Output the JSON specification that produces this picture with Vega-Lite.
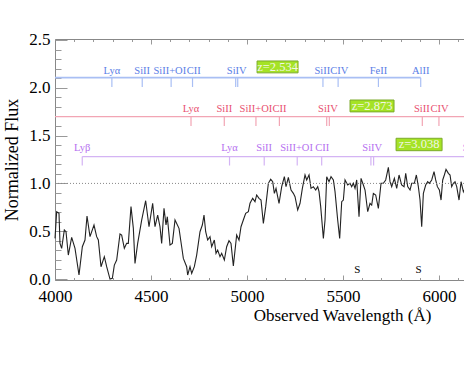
{
  "$schema": "https://vega.github.io/schema/vega-lite/v6.json",
  "width": 409,
  "height": 241,
  "autosize": {"type": "none"},
  "padding": {"left": 55, "top": 39, "right": 0, "bottom": 102},
  "background": "white",
  "config": {
    "view": {"stroke": null},
    "font": "Liberation Serif",
    "axis": {"grid": false, "labelFont": "Liberation Serif", "titleFont": "Liberation Serif", "domainColor": "#888", "tickColor": "#999", "labelColor": "#000", "titleColor": "#000", "titleFontWeight": "normal", "labelFlush": false, "labelOverlap": false}
  },
  "datasets": {
    "spectrum": [
      {"wl": 4000, "f": 0.425}, {"wl": 4008.7, "f": 0.704}, {"wl": 4020.8, "f": 0.687}, {"wl": 4026, "f": 0.373}, {"wl": 4034.7, "f": 0.321},
      {"wl": 4048.6, "f": 0.513}, {"wl": 4057.3, "f": 0.495}, {"wl": 4069.4, "f": 0.251}, {"wl": 4086.8, "f": 0.436}, {"wl": 4104.2, "f": 0.321},
      {"wl": 4125, "f": 0.042}, {"wl": 4142.4, "f": 0.338}, {"wl": 4156.2, "f": 0.408}, {"wl": 4166.7, "f": 0.659}, {"wl": 4182.3, "f": 0.443},
      {"wl": 4203.1, "f": 0.565}, {"wl": 4217, "f": 0.443}, {"wl": 4225.7, "f": 0.408}, {"wl": 4239.6, "f": 0.129}, {"wl": 4256.9, "f": 0.234},
      {"wl": 4269.1, "f": 0.129}, {"wl": 4286.4, "f": 0.0}, {"wl": 4298.6, "f": 0.007}, {"wl": 4309, "f": 0.146}, {"wl": 4321.2, "f": 0.199},
      {"wl": 4338.5, "f": 0.471}, {"wl": 4347.2, "f": 0.46}, {"wl": 4361.1, "f": 0.321}, {"wl": 4373.2, "f": 0.373}, {"wl": 4381.9, "f": 0.373},
      {"wl": 4395.8, "f": 0.757}, {"wl": 4408, "f": 0.53}, {"wl": 4416.6, "f": 0.164}, {"wl": 4430.5, "f": 0.373}, {"wl": 4451.4, "f": 0.617},
      {"wl": 4472.2, "f": 0.819}, {"wl": 4489.6, "f": 0.547}, {"wl": 4508.6, "f": 0.792}, {"wl": 4520.8, "f": 0.547}, {"wl": 4534.7, "f": 0.669},
      {"wl": 4546.8, "f": 0.547}, {"wl": 4555.5, "f": 0.373}, {"wl": 4567.7, "f": 0.739}, {"wl": 4578.1, "f": 0.565}, {"wl": 4585, "f": 0.652},
      {"wl": 4598.9, "f": 0.356}, {"wl": 4611.1, "f": 0.373}, {"wl": 4625, "f": 0.617}, {"wl": 4645.8, "f": 0.53}, {"wl": 4659.7, "f": 0.338},
      {"wl": 4668.4, "f": 0.216}, {"wl": 4685.7, "f": 0.129}, {"wl": 4690.9, "f": 0.042}, {"wl": 4703.1, "f": 0.129}, {"wl": 4711.8, "f": 0.059},
      {"wl": 4725.6, "f": 0.129}, {"wl": 4737.8, "f": 0.251}, {"wl": 4755.2, "f": 0.495}, {"wl": 4767.3, "f": 0.565}, {"wl": 4776, "f": 0.669},
      {"wl": 4784.7, "f": 0.495}, {"wl": 4795.1, "f": 0.408}, {"wl": 4807.2, "f": 0.443}, {"wl": 4815.9, "f": 0.338}, {"wl": 4829.8, "f": 0.408},
      {"wl": 4838.5, "f": 0.268}, {"wl": 4847.2, "f": 0.303}, {"wl": 4859.3, "f": 0.234}, {"wl": 4868, "f": 0.268}, {"wl": 4881.9, "f": 0.199},
      {"wl": 4894, "f": 0.338}, {"wl": 4906.2, "f": 0.401}, {"wl": 4916.6, "f": 0.373}, {"wl": 4928.8, "f": 0.136}, {"wl": 4946.1, "f": 0.46},
      {"wl": 4958.3, "f": 0.408}, {"wl": 4968.7, "f": 0.547}, {"wl": 4980.8, "f": 0.617}, {"wl": 4993, "f": 0.687}, {"wl": 5006.9, "f": 0.704},
      {"wl": 5015.6, "f": 0.792}, {"wl": 5029.4, "f": 0.844}, {"wl": 5041.6, "f": 0.809}, {"wl": 5050.3, "f": 0.879}, {"wl": 5062.4, "f": 0.844},
      {"wl": 5072.9, "f": 0.826}, {"wl": 5085.1, "f": 0.582}, {"wl": 5097.3, "f": 0.757}, {"wl": 5111.1, "f": 1.001}, {"wl": 5123.3, "f": 1.043},
      {"wl": 5133.7, "f": 1.018}, {"wl": 5142.4, "f": 0.896}, {"wl": 5151.1, "f": 0.948}, {"wl": 5166.7, "f": 0.792}, {"wl": 5180.6, "f": 0.966},
      {"wl": 5194.5, "f": 1.07}, {"wl": 5203.1, "f": 0.966}, {"wl": 5215.3, "f": 1.063}, {"wl": 5229.2, "f": 0.931}, {"wl": 5241.3, "f": 0.896},
      {"wl": 5250, "f": 0.861}, {"wl": 5263.9, "f": 0.722}, {"wl": 5276.1, "f": 0.792}, {"wl": 5288.2, "f": 0.948}, {"wl": 5302.1, "f": 1.088},
      {"wl": 5310.8, "f": 1.036}, {"wl": 5323, "f": 1.088}, {"wl": 5333.3, "f": 0.948}, {"wl": 5345.5, "f": 0.966}, {"wl": 5357.7, "f": 0.931},
      {"wl": 5368.1, "f": 0.966}, {"wl": 5375, "f": 0.914}, {"wl": 5383.7, "f": 0.757}, {"wl": 5397.6, "f": 0.425}, {"wl": 5406.3, "f": 0.617},
      {"wl": 5415, "f": 1.07}, {"wl": 5427.1, "f": 1.018}, {"wl": 5437.5, "f": 1.07}, {"wl": 5449.7, "f": 1.036}, {"wl": 5458.3, "f": 0.914},
      {"wl": 5472.2, "f": 0.617}, {"wl": 5482.6, "f": 0.425}, {"wl": 5493.1, "f": 0.809}, {"wl": 5501.7, "f": 0.826}, {"wl": 5510.4, "f": 1.036},
      {"wl": 5524.3, "f": 0.983}, {"wl": 5536.5, "f": 1.001}, {"wl": 5545.1, "f": 0.966}, {"wl": 5553.8, "f": 1.001}, {"wl": 5562.5, "f": 0.948},
      {"wl": 5571.2, "f": 1.036}, {"wl": 5583.3, "f": 0.652}, {"wl": 5593.8, "f": 1.053}, {"wl": 5605.9, "f": 0.983}, {"wl": 5614.6, "f": 0.931},
      {"wl": 5628.5, "f": 0.704}, {"wl": 5640.6, "f": 0.792}, {"wl": 5649.3, "f": 0.774}, {"wl": 5658, "f": 0.896}, {"wl": 5670.1, "f": 0.879},
      {"wl": 5684, "f": 0.739}, {"wl": 5697.9, "f": 1.001}, {"wl": 5710.1, "f": 1.001}, {"wl": 5722.2, "f": 1.036}, {"wl": 5736.1, "f": 1.168},
      {"wl": 5744.8, "f": 1.018}, {"wl": 5753.5, "f": 0.966}, {"wl": 5767.3, "f": 1.053}, {"wl": 5779.5, "f": 0.948}, {"wl": 5791.7, "f": 1.088},
      {"wl": 5805.5, "f": 0.983}, {"wl": 5817.7, "f": 0.966}, {"wl": 5826.4, "f": 1.105}, {"wl": 5836.8, "f": 0.966}, {"wl": 5849, "f": 0.931},
      {"wl": 5857.6, "f": 1.001}, {"wl": 5871.5, "f": 1.001}, {"wl": 5881.9, "f": 1.088}, {"wl": 5892.3, "f": 0.966}, {"wl": 5901, "f": 0.826},
      {"wl": 5909.7, "f": 0.547}, {"wl": 5918.4, "f": 0.896}, {"wl": 5930.5, "f": 0.983}, {"wl": 5940.9, "f": 1.018}, {"wl": 5949.6, "f": 1.001},
      {"wl": 5961.8, "f": 1.036}, {"wl": 5973.9, "f": 1.123}, {"wl": 5982.6, "f": 1.036}, {"wl": 5991.3, "f": 0.966}, {"wl": 6001.7, "f": 0.931},
      {"wl": 6010.4, "f": 0.826}, {"wl": 6019.1, "f": 1.036}, {"wl": 6027.7, "f": 1.088}, {"wl": 6036.4, "f": 1.147}, {"wl": 6048.6, "f": 1.105},
      {"wl": 6057.3, "f": 1.088}, {"wl": 6065.9, "f": 0.966}, {"wl": 6074.6, "f": 1.001}, {"wl": 6083.3, "f": 1.018}, {"wl": 6092, "f": 0.966},
      {"wl": 6104.1, "f": 0.826}, {"wl": 6114.5, "f": 1.018}, {"wl": 6126.7, "f": 0.914}, {"wl": 6130, "f": 0.931}
    ],
    "idticks": [
      {"z": "2.534", "wl": 4296.2}, {"z": "2.534", "wl": 4454.3}, {"z": "2.534", "wl": 4604.8}, {"z": "2.534", "wl": 4716.2},
      {"z": "2.534", "wl": 4941}, {"z": "2.534", "wl": 4951.6}, {"z": "2.534", "wl": 5395.4}, {"z": "2.534", "wl": 5474.4},
      {"z": "2.534", "wl": 5684.3}, {"z": "2.534", "wl": 5904.6},
      {"z": "2.873", "wl": 4708.3}, {"z": "2.873", "wl": 4881.6}, {"z": "2.873", "wl": 5046.5}, {"z": "2.873", "wl": 5168.6},
      {"z": "2.873", "wl": 5415}, {"z": "2.873", "wl": 5428.6}, {"z": "2.873", "wl": 5912.9}, {"z": "2.873", "wl": 5999.5},
      {"z": "3.038", "wl": 4141.9}, {"z": "3.038", "wl": 4908.9}, {"z": "3.038", "wl": 5089.6}, {"z": "3.038", "wl": 5261.5},
      {"z": "3.038", "wl": 5388.8}, {"z": "3.038", "wl": 5645.2}, {"z": "3.038", "wl": 5659.3}, {"z": "3.038", "wl": 6164.9}
    ],
    "idlabels": [
      {"z": "2.534", "ion": "Lyα", "wl": 4296.2}, {"z": "2.534", "ion": "SiII", "wl": 4454.3}, {"z": "2.534", "ion": "SiII+OI", "wl": 4598},
      {"z": "2.534", "ion": "CII", "wl": 4722}, {"z": "2.534", "ion": "SiIV", "wl": 4946.3}, {"z": "2.534", "ion": "SiII", "wl": 5392},
      {"z": "2.534", "ion": "CIV", "wl": 5480}, {"z": "2.534", "ion": "FeII", "wl": 5684.3}, {"z": "2.534", "ion": "AlII", "wl": 5904.6},
      {"z": "2.873", "ion": "Lyα", "wl": 4708.3}, {"z": "2.873", "ion": "SiII", "wl": 4881.6}, {"z": "2.873", "ion": "SiII+OI", "wl": 5046.5},
      {"z": "2.873", "ion": "CII", "wl": 5168.6}, {"z": "2.873", "ion": "SiIV", "wl": 5421.8}, {"z": "2.873", "ion": "SiII", "wl": 5910},
      {"z": "2.873", "ion": "CIV", "wl": 6003},
      {"z": "3.038", "ion": "Lyβ", "wl": 4141.9}, {"z": "3.038", "ion": "Lyα", "wl": 4908.9}, {"z": "3.038", "ion": "SiII", "wl": 5089.6},
      {"z": "3.038", "ion": "SiII+OI", "wl": 5258}, {"z": "3.038", "ion": "CII", "wl": 5392}, {"z": "3.038", "ion": "SiIV", "wl": 5652.2},
      {"z": "3.038", "ion": "SiII", "wl": 6164.9}
    ],
    "sky": [{"wl": 5575, "label": "S"}, {"wl": 5893, "label": "S"}],
    "one": [{}]
  },
  "layer": [
    {
      "data": {"name": "spectrum"},
      "mark": {"type": "line", "color": "#222", "strokeWidth": 1.1},
      "encoding": {
        "x": {"field": "wl", "type": "quantitative", "scale": {"domain": [4000, 6130], "nice": false, "zero": false},
          "axis": {"orient": "bottom", "values": [4000, 4500, 5000, 5500, 6000], "format": "d", "tickSize": -5, "labelPadding": 13, "labelFontSize": 17,
            "title": "Observed Wavelength (Å)", "titleFontSize": 17, "titleX": 287, "titleY": 40, "titleBaseline": "alphabetic"}},
        "y": {"field": "f", "type": "quantitative", "scale": {"domain": [-0.01, 2.51], "nice": false, "zero": false},
          "axis": {"orient": "left", "values": [0, 0.5, 1, 1.5, 2, 2.5], "format": ".1f", "tickSize": -12, "labelPadding": 17, "labelFontSize": 17,
            "title": "Normalized Flux", "titleFontSize": 18, "titleX": -38, "titleY": 120.5, "titleBaseline": "alphabetic", "titleAngle": 270}}
      }
    },
    {
      "data": {"name": "one"},
      "mark": {"type": "rule", "color": "#888", "strokeDash": [1, 2], "strokeWidth": 1},
      "encoding": {
        "x": {"datum": 4000, "type": "quantitative",
          "axis": {"orient": "bottom", "values": [4000, 4100, 4200, 4300, 4400, 4500, 4600, 4700, 4800, 4900, 5000, 5100, 5200, 5300, 5400, 5500, 5600, 5700, 5800, 5900, 6000, 6100], "labels": false, "domain": false, "tickSize": -2.5, "title": null}},
        "x2": {"datum": 6130},
        "y": {"datum": 1.0, "type": "quantitative",
          "axis": {"orient": "left", "values": [0, 0.1, 0.2, 0.3, 0.4, 0.5, 0.6, 0.7, 0.8, 0.9, 1, 1.1, 1.2, 1.3, 1.4, 1.5, 1.6, 1.7, 1.8, 1.9, 2, 2.1, 2.2, 2.3, 2.4, 2.5], "labels": false, "domain": false, "tickSize": -6, "title": null}}
      }
    },
    {
      "data": {"name": "sky"},
      "mark": {"type": "text", "color": "#000", "fontSize": 11, "baseline": "middle"},
      "encoding": {
        "x": {"field": "wl", "type": "quantitative",
          "axis": {"orient": "top", "values": [4000, 4100, 4200, 4300, 4400, 4500, 4600, 4700, 4800, 4900, 5000, 5100, 5200, 5300, 5400, 5500, 5600, 5700, 5800, 5900, 6000, 6100], "labels": false, "title": null,
            "tickSize": {"condition": {"test": "datum.value % 500 === 0", "value": -5}, "value": -2.5}}},
        "y": {"datum": 0.094, "type": "quantitative", "axis": null},
        "text": {"field": "label"}
      }
    },
    {
      "layer": [
        {"data": {"name": "one"}, "mark": {"type": "rule", "color": "#a9bff4", "strokeWidth": 1.6},
          "encoding": {"x": {"datum": 4000, "type": "quantitative", "axis": null}, "x2": {"datum": 5904.6}, "y": {"datum": 2.106, "type": "quantitative", "axis": null}}},
        {"data": {"name": "idticks"}, "transform": [{"filter": "datum.z === '2.534'"}], "mark": {"type": "rule", "color": "#a9bff4", "strokeWidth": 1.2},
          "encoding": {"x": {"field": "wl", "type": "quantitative", "axis": null}, "y": {"datum": 2.106, "type": "quantitative", "axis": null}, "y2": {"datum": 2.008}}},
        {"data": {"name": "idlabels"}, "transform": [{"filter": "datum.z === '2.534'"}], "mark": {"type": "text", "color": "#5a7ee6", "fontSize": 10.5, "baseline": "middle"},
          "encoding": {"x": {"field": "wl", "type": "quantitative", "axis": null}, "y": {"datum": 2.177, "type": "quantitative", "axis": null}, "text": {"field": "ion"}}},
        {"data": {"name": "one"}, "mark": {"type": "point", "shape": "M-1,-0.29L1,-0.29L1,0.29L-1,0.29Z", "size": 1681, "filled": true, "fill": "#a5e325", "stroke": "#7cab2c", "strokeWidth": 1, "opacity": 1},
          "encoding": {"x": {"datum": 5159, "type": "quantitative", "axis": null}, "y": {"datum": 2.218, "type": "quantitative", "axis": null}}},
        {"data": {"name": "one"}, "mark": {"type": "text", "color": "#f2f6e6", "fontSize": 12.5, "baseline": "middle"},
          "encoding": {"x": {"datum": 5159, "type": "quantitative", "axis": null}, "y": {"datum": 2.218, "type": "quantitative", "axis": null}, "text": {"value": "z=2.534"}}}
      ]
    },
    {
      "layer": [
        {"data": {"name": "one"}, "mark": {"type": "rule", "color": "#f2a5b4", "strokeWidth": 1.2},
          "encoding": {"x": {"datum": 4000, "type": "quantitative", "axis": null}, "x2": {"datum": 6130}, "y": {"datum": 1.698, "type": "quantitative", "axis": null}}},
        {"data": {"name": "idticks"}, "transform": [{"filter": "datum.z === '2.873'"}], "mark": {"type": "rule", "color": "#f2a5b4", "strokeWidth": 1.2},
          "encoding": {"x": {"field": "wl", "type": "quantitative", "axis": null}, "y": {"datum": 1.698, "type": "quantitative", "axis": null}, "y2": {"datum": 1.6}}},
        {"data": {"name": "idlabels"}, "transform": [{"filter": "datum.z === '2.873'"}], "mark": {"type": "text", "color": "#e8506f", "fontSize": 10.5, "baseline": "middle"},
          "encoding": {"x": {"field": "wl", "type": "quantitative", "axis": null}, "y": {"datum": 1.775, "type": "quantitative", "axis": null}, "text": {"field": "ion"}}},
        {"data": {"name": "one"}, "mark": {"type": "point", "shape": "M-1,-0.27L1,-0.27L1,0.27L-1,0.27Z", "size": 1936, "filled": true, "fill": "#a5e325", "stroke": "#7cab2c", "strokeWidth": 1, "opacity": 1},
          "encoding": {"x": {"datum": 5651, "type": "quantitative", "axis": null}, "y": {"datum": 1.81, "type": "quantitative", "axis": null}}},
        {"data": {"name": "one"}, "mark": {"type": "text", "color": "#f2f6e6", "fontSize": 12.5, "baseline": "middle"},
          "encoding": {"x": {"datum": 5651, "type": "quantitative", "axis": null}, "y": {"datum": 1.81, "type": "quantitative", "axis": null}, "text": {"value": "z=2.873"}}}
      ]
    },
    {
      "layer": [
        {"data": {"name": "one"}, "mark": {"type": "rule", "color": "#d4b4f4", "strokeWidth": 1.2},
          "encoding": {"x": {"datum": 4141.9, "type": "quantitative", "axis": null}, "x2": {"datum": 6130}, "y": {"datum": 1.281, "type": "quantitative", "axis": null}}},
        {"data": {"name": "idticks"}, "transform": [{"filter": "datum.z === '3.038'"}], "mark": {"type": "rule", "color": "#d4b4f4", "strokeWidth": 1.2},
          "encoding": {"x": {"field": "wl", "type": "quantitative", "axis": null}, "y": {"datum": 1.281, "type": "quantitative", "axis": null}, "y2": {"datum": 1.187}}},
        {"data": {"name": "idlabels"}, "transform": [{"filter": "datum.z === '3.038'"}], "mark": {"type": "text", "color": "#b56ff0", "fontSize": 10.5, "baseline": "middle"},
          "encoding": {"x": {"field": "wl", "type": "quantitative", "axis": null}, "y": {"datum": 1.367, "type": "quantitative", "axis": null}, "text": {"field": "ion"}}},
        {"data": {"name": "one"}, "mark": {"type": "point", "shape": "M-1,-0.27L1,-0.27L1,0.27L-1,0.27Z", "size": 2116, "filled": true, "fill": "#a5e325", "stroke": "#7cab2c", "strokeWidth": 1, "opacity": 1},
          "encoding": {"x": {"datum": 5896, "type": "quantitative", "axis": null}, "y": {"datum": 1.407, "type": "quantitative", "axis": null}}},
        {"data": {"name": "one"}, "mark": {"type": "text", "color": "#f2f6e6", "fontSize": 12.5, "baseline": "middle"},
          "encoding": {"x": {"datum": 5896, "type": "quantitative", "axis": null}, "y": {"datum": 1.407, "type": "quantitative", "axis": null}, "text": {"value": "z=3.038"}}}
      ]
    }
  ],
  "resolve": {"axis": {"x": "independent", "y": "independent"}}
}
